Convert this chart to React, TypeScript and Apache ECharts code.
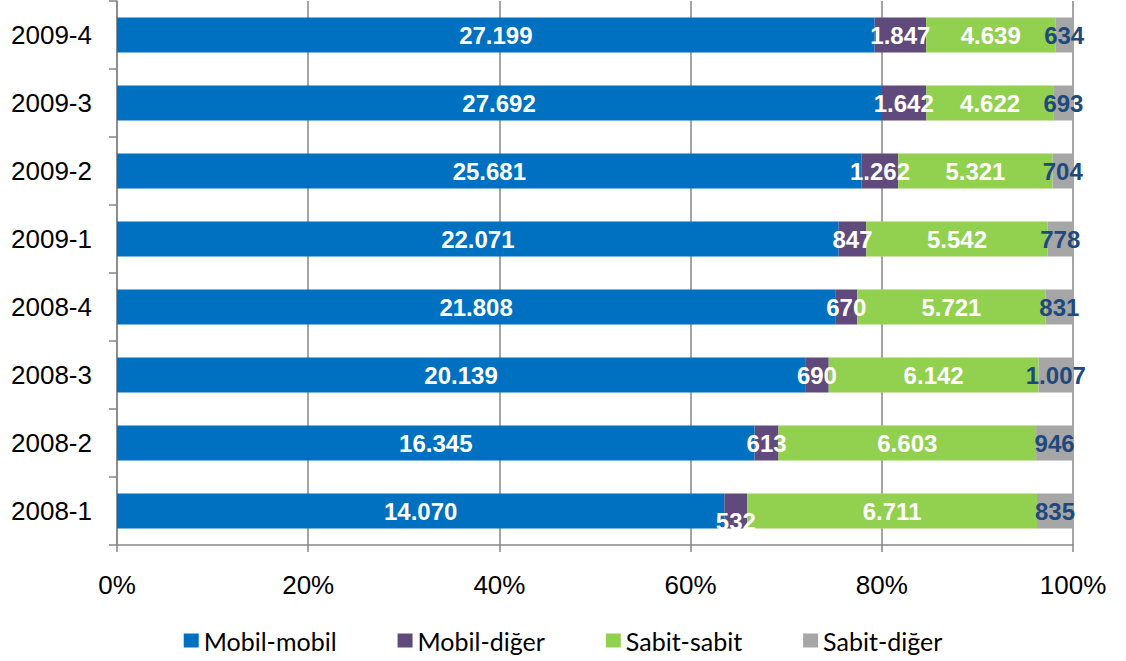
import React, { useEffect, useRef } from "react";
import * as echarts from "echarts";

const categories = ["2008-1", "2008-2", "2008-3", "2008-4", "2009-1", "2009-2", "2009-3", "2009-4"];
const mobilMobil = [14070, 16345, 20139, 21808, 22071, 25681, 27692, 27199];
const mobilDiger = [532, 613, 690, 670, 847, 1262, 1642, 1847];
const sabitSabit = [6711, 6603, 6142, 5721, 5542, 5321, 4622, 4639];
const sabitDiger = [835, 946, 1007, 831, 778, 704, 693, 634];
const xTicks = ["0%", "20%", "40%", "60%", "80%", "100%"];

const seriesNames = ["Mobil-mobil", "Mobil-diğer", "Sabit-sabit", "Sabit-diğer"];
const seriesColors = ["#0070C0", "#604A7B", "#92D050", "#A6A6A6"];
const labelColors = ["#FFFFFF", "#FFFFFF", "#FFFFFF", "#1F497D"];

const fmt = (v: number) => String(v).replace(/\B(?=(\d{3})+(?!\d))/g, ".");

export default function App() {
  const ref = useRef<HTMLDivElement>(null);
  useEffect(() => {
    if (!ref.current) return;
    const chart = echarts.init(ref.current, undefined, { renderer: "svg" });
    const raw = [mobilMobil, mobilDiger, sabitSabit, sabitDiger];
    const totals = categories.map((_, i) => raw.reduce((s, arr) => s + arr[i], 0));
    const series = raw.map((arr, si) => ({
      name: seriesNames[si],
      type: "bar",
      stack: "total",
      barWidth: 35,
      itemStyle: { color: seriesColors[si] },
      label: {
        show: true,
        position: "inside",
        color: labelColors[si],
        fontFamily: "Liberation Sans, Arial, sans-serif",
        fontWeight: "bold",
        fontSize: 24,
        formatter: (p: any) => fmt(arr[p.dataIndex]),
      },
      data: arr.map((v, i) => {
        const d: any = { value: (v / totals[i]) * 100 };
        if (si === 1 && i === 0) d.label = { offset: [0, 10] };
        return d;
      }),
    }));
    chart.setOption({
      animation: false,
      grid: { left: 117, right: 53, top: 1, bottom: 116, containLabel: false },
      legend: {
        data: seriesNames,
        top: 623,
        left: "center",
        itemWidth: 15,
        itemHeight: 14,
        itemGap: 61,
        icon: "rect",
        textStyle: { fontSize: 25, color: "#000", fontFamily: "Lato, Open Sans, sans-serif" },
      },
      xAxis: {
        type: "value",
        min: 0,
        max: 100,
        interval: 20,
        axisLine: { show: true, lineStyle: { color: "#868686", width: 1.5 } },
        axisTick: { show: true, length: 7, lineStyle: { color: "#868686", width: 1.5 } },
        splitLine: { show: true, lineStyle: { color: "#868686", width: 1.5 } },
        axisLabel: {
          margin: 27,
          fontSize: 26,
          color: "#000",
          fontFamily: "Liberation Sans, Arial, sans-serif",
          formatter: (v: number) => xTicks[Math.round(v / 20)],
        },
      },
      yAxis: {
        type: "category",
        data: categories,
        axisLine: { show: true, lineStyle: { color: "#868686", width: 1.5 } },
        axisTick: { show: true, length: 8, lineStyle: { color: "#868686", width: 1.5 } },
        axisLabel: {
          margin: 25,
          fontSize: 26,
          color: "#000",
          fontFamily: "Liberation Sans, Arial, sans-serif",
        },
      },
      series,
    });
    return () => chart.dispose();
  }, []);
  return (
    <div
      ref={ref}
      style={{ position: "absolute", left: 0, top: 0, width: 1126, height: 661, background: "#fff" }}
    />
  );
}
